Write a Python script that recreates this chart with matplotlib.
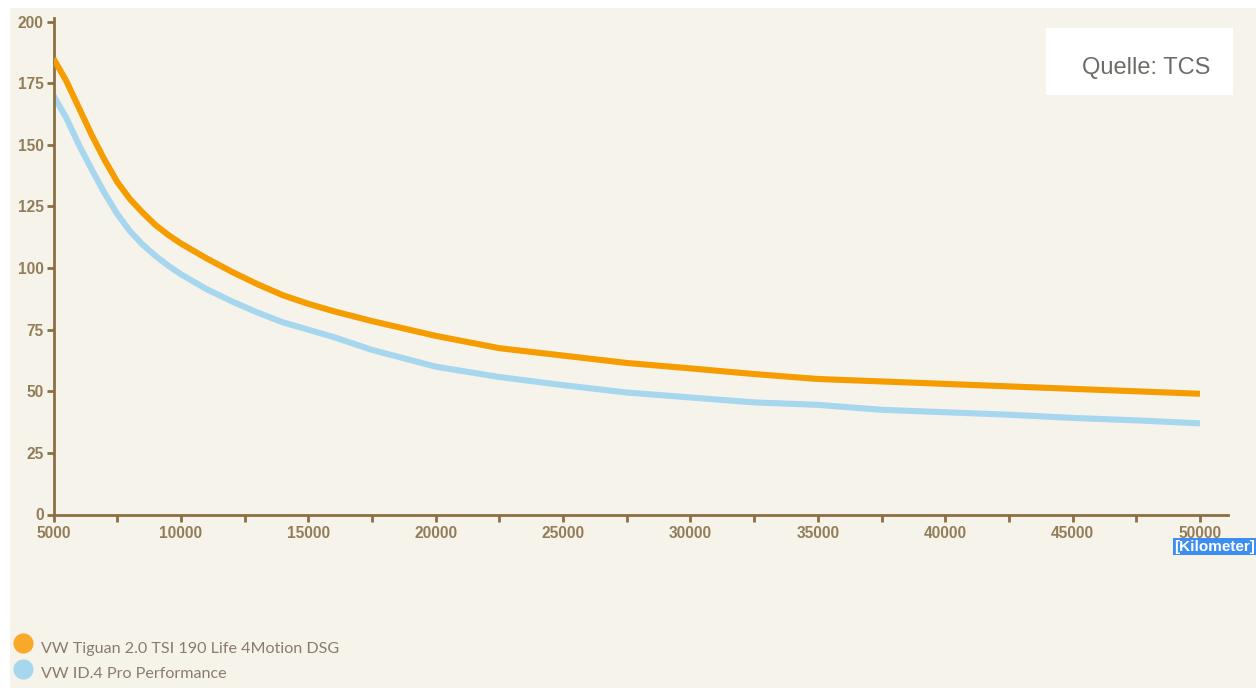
import matplotlib.pyplot as plt
from matplotlib.lines import Line2D
from matplotlib.patches import Rectangle

# data (km vs. value)
km = [5000, 5500, 6000, 6500, 7000, 7500, 8000, 8500, 9000, 9500, 10000,
      11000, 12000, 13000, 14000, 15000, 16000, 17500, 20000, 22500, 25000,
      27500, 30000, 32500, 35000, 37500, 40000, 42500, 45000, 47500, 50000]
tiguan = [185, 176, 165, 154, 144, 135, 128, 122.5, 117.5, 113.5, 110,
          104, 98.5, 93.5, 89, 85.5, 82.5, 78.5, 72.5, 67.5, 64.5,
          61.5, 59.3, 57, 55, 54, 53, 52, 51, 50, 49]
id4 = [170, 161, 150, 140, 130.5, 122, 115, 109.5, 105, 101, 97.5,
       91.5, 86.5, 82, 78, 75, 72, 66.8, 60, 55.8, 52.5,
       49.5, 47.5, 45.5, 44.5, 42.5, 41.5, 40.5, 39.2, 38.2, 37]
series_names = ['VW Tiguan 2.0 TSI 190 Life 4Motion DSG', 'VW ID.4 Pro Performance']
x_ticks = list(range(5000, 50001, 2500))
x_labels = [str(v) if v % 5000 == 0 else '' for v in x_ticks]
y_ticks = list(range(0, 201, 25))

W, H = 1256, 688
bg = '#f6f3eb'
axis_col = '#8b6f44'
tick_text = '#927d58'
orange = '#f59d00'
blue = '#a6d7ef'

fig = plt.figure(figsize=(W / 100, H / 100), dpi=100)
fig.patch.set_facecolor('white')
# cream panel (white strip on top and left)
fig.add_artist(Rectangle((10 / W, 0), 1, (H - 8) / H, transform=fig.transFigure,
                         facecolor=bg, edgecolor='none', zorder=0))

ax = fig.add_axes([53.5 / W, (H - 514.5) / H, (1228 - 53.5) / W, (514.5 - 21.7) / H])
ax.set_facecolor('none')

ax.plot(km, tiguan, color=orange, lw=4.4, solid_capstyle='butt', solid_joinstyle='round', zorder=3)
ax.plot(km, id4, color=blue, lw=4.4, solid_capstyle='butt', solid_joinstyle='round', zorder=2)

ax.set_xlim(5000, 51100)
ax.set_ylim(0, 200)
for s in ['top', 'right']:
    ax.spines[s].set_visible(False)
for s in ['left', 'bottom']:
    ax.spines[s].set_color(axis_col)
    ax.spines[s].set_linewidth(2)
ax.spines['left'].set_bounds(0, 201.5)

ax.set_xticks(x_ticks)
ax.set_xticklabels(x_labels)
ax.set_yticks(y_ticks)
ax.tick_params(axis='both', colors=axis_col, width=2, length=5, labelcolor=tick_text,
               labelsize=11.2)
ax.tick_params(axis='x', pad=3)
ax.tick_params(axis='y', pad=2)
for lbl in ax.get_xticklabels() + ax.get_yticklabels():
    lbl.set_fontfamily('Liberation Sans')
    lbl.set_fontweight('bold')

# unit label with highlight
fig.text(1215 / W, (H - 546.5) / H, '[Kilometer]', ha='center', va='center', color='white',
         fontsize=11, fontfamily='Liberation Sans', fontweight='bold',
         bbox=dict(boxstyle='square,pad=0.1', facecolor='#3d8ef2', edgecolor='none'))

# source box
fig.add_artist(Rectangle((1046 / W, (H - 95) / H), 187 / W, 67 / H, transform=fig.transFigure,
                         facecolor='white', edgecolor='none', zorder=1))
fig.text(1082 / W, (H - 68) / H, 'Quelle: TCS', ha='left', va='center', color='#6a6e66',
         fontsize=17, fontfamily='Liberation Sans', zorder=2)

# legend drawn by hand: dot + label
for i, (name, col) in enumerate(zip(series_names, ['#f9a92a', blue])):
    yc = H - 643 - 25.5 * i
    fig.add_artist(Line2D([23 / W], [yc / H], ls='none', marker='o', ms=14.5, color=col,
                          markeredgewidth=0, transform=fig.transFigure))
    fig.text(41 / W, (yc - 6) / H, name, ha='left', va='center', color='#8a7c6c',
             fontsize=11.6, fontfamily='Lato')

fig.savefig('out.png', dpi=100, facecolor=fig.get_facecolor())
